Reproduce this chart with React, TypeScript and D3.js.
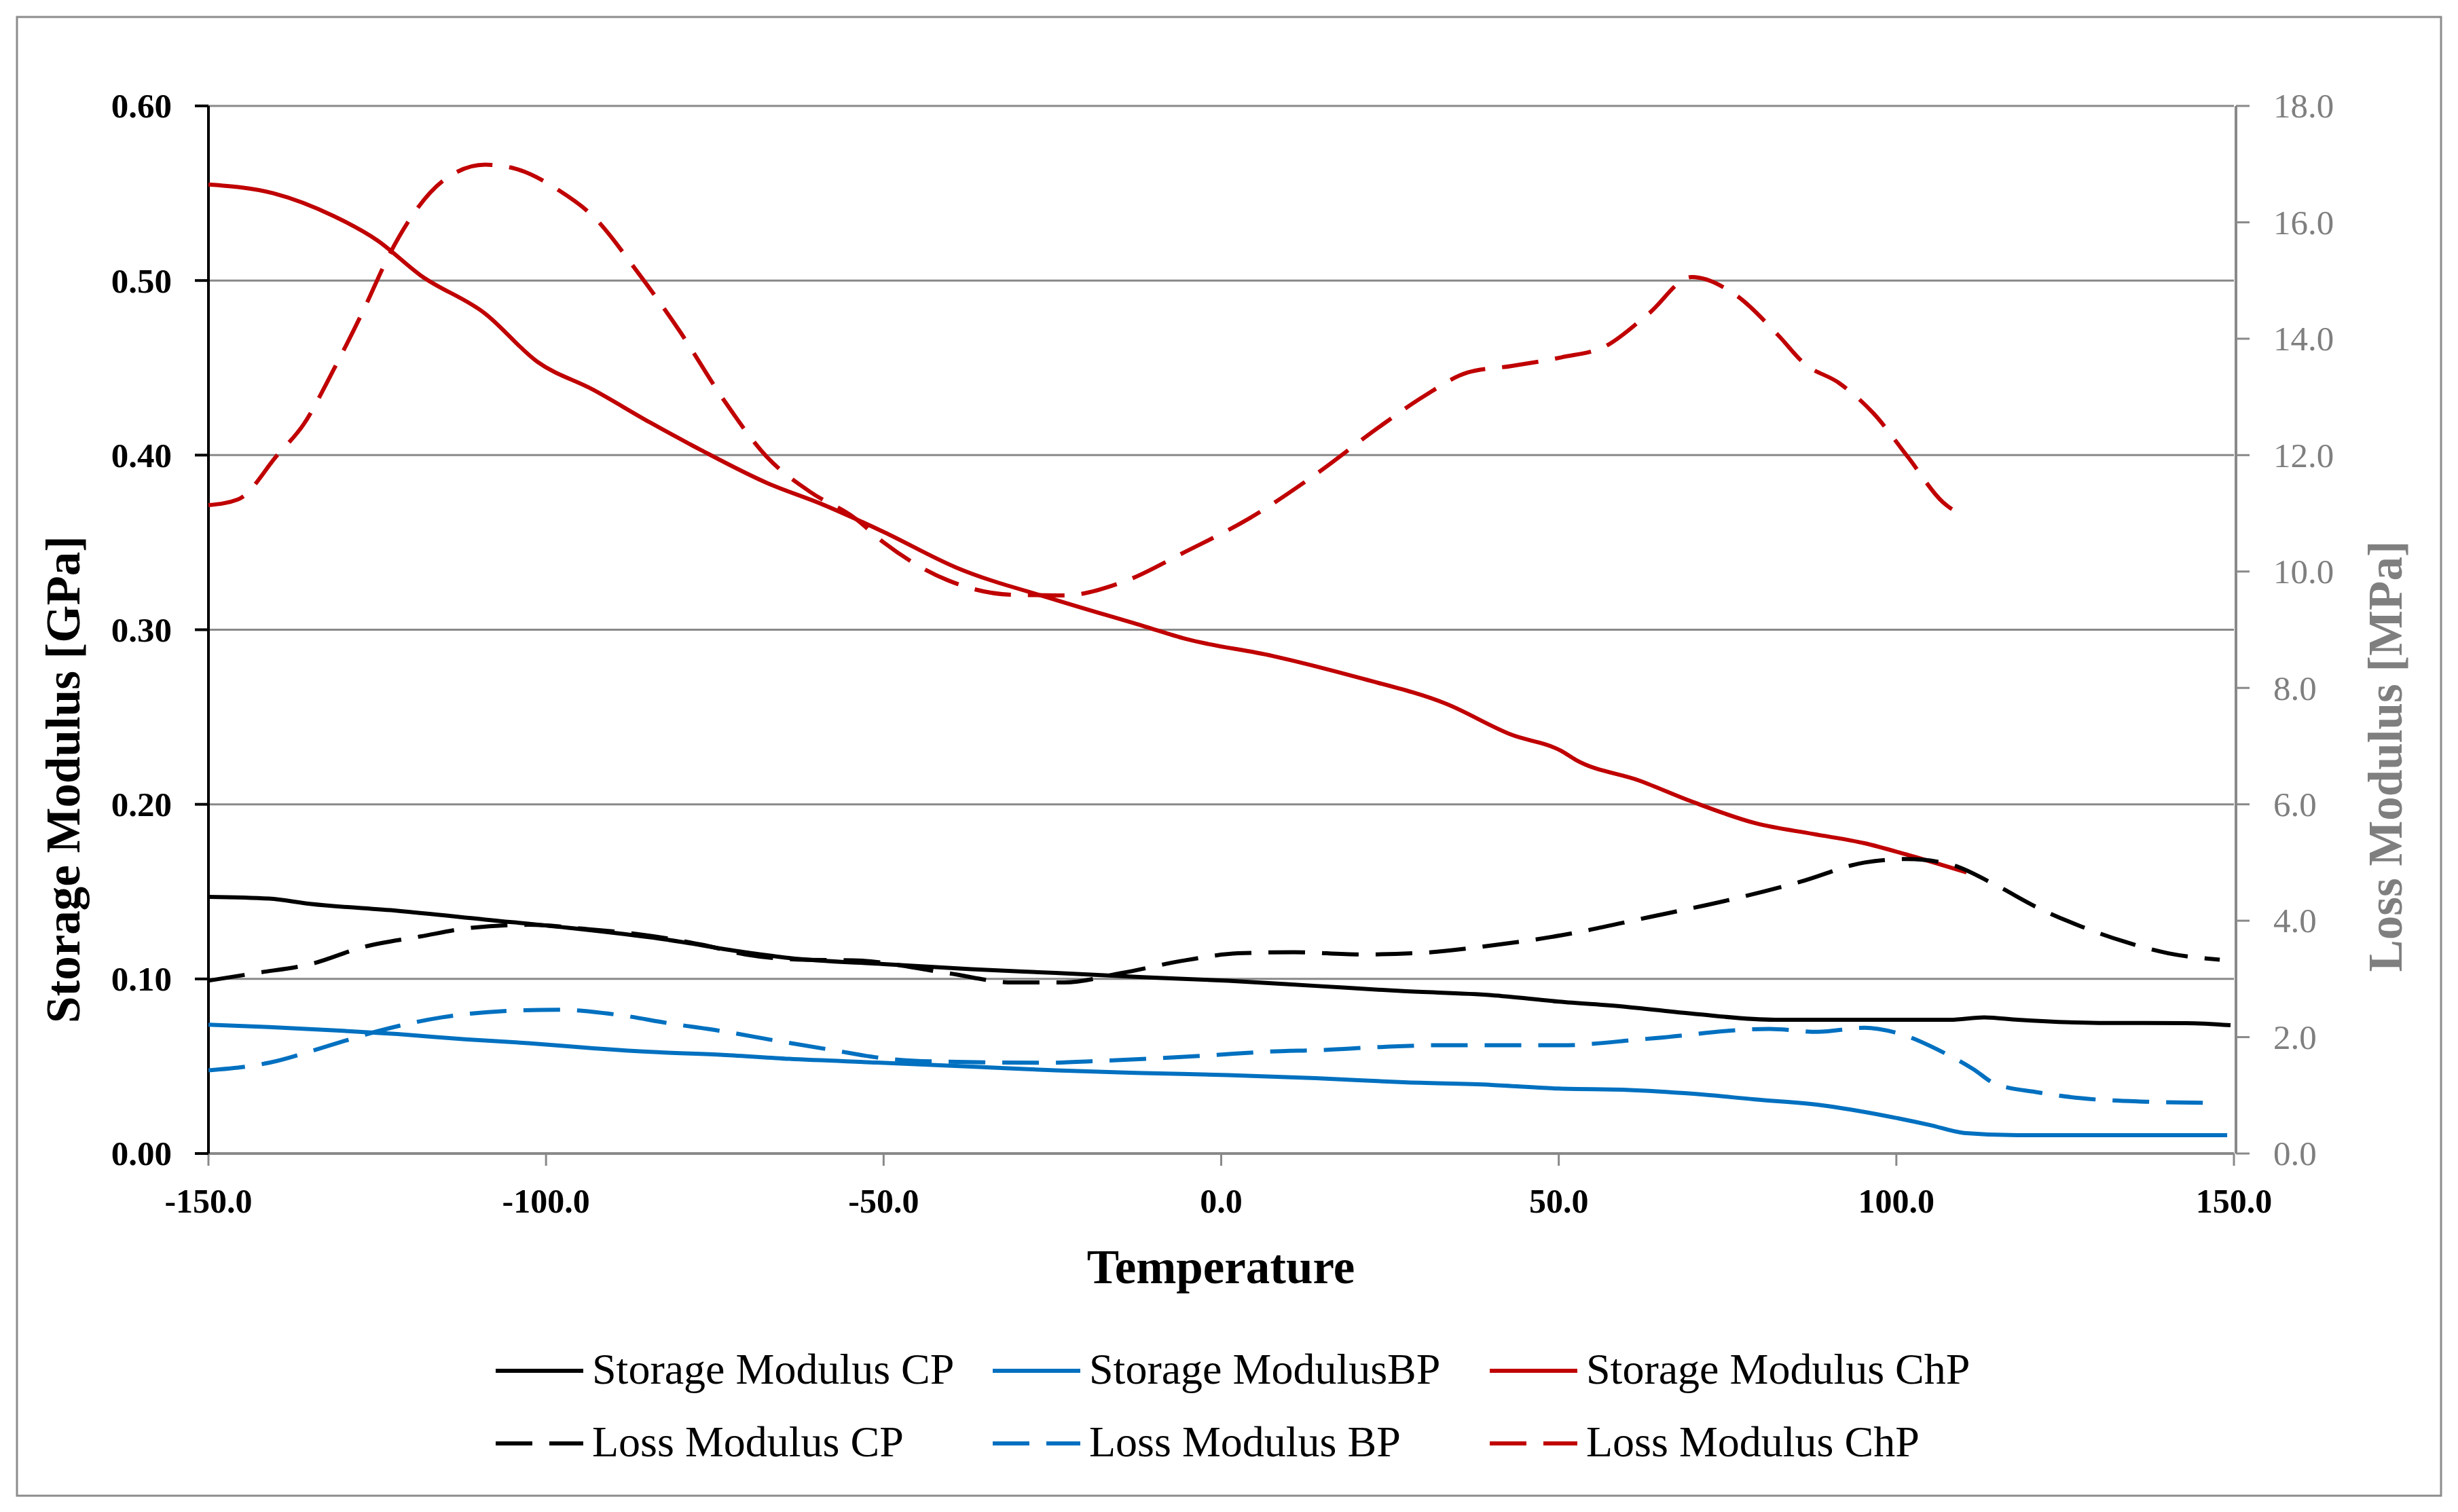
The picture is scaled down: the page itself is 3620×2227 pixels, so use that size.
import React from "react";
import * as d3 from "d3";

// temperature [°C], value — storage in GPa (left axis), loss in MPa (right axis)
const storageCP: [number, number][] = [
  [-150, 0.147], [-141, 0.146], [-135, 0.143], [-122, 0.139], [-109, 0.134],
  [-96, 0.129], [-83, 0.123], [-70, 0.115], [-64, 0.112], [-50, 0.1085],
  [-37, 0.1056], [-24.5, 0.1034], [-11.6, 0.101], [1, 0.099], [14, 0.096],
  [27, 0.093], [40, 0.0907], [50, 0.087], [60, 0.084], [70, 0.08],
  [82, 0.0766], [95, 0.0766], [108, 0.0766], [113, 0.078], [118, 0.0766],
  [130, 0.0748], [143, 0.0747], [149.5, 0.0735],
];

const storageBP: [number, number][] = [
  [-150, 0.0738], [-141, 0.0724], [-131.5, 0.0706], [-122, 0.0684], [-112, 0.0654],
  [-102.6, 0.0632], [-93, 0.0603], [-83.4, 0.058], [-73.8, 0.0565], [-64, 0.0542],
  [-51, 0.0521], [-37, 0.0498], [-24.5, 0.0476], [-11.6, 0.0461], [1, 0.0449],
  [14, 0.0432], [27, 0.0408], [40, 0.0393], [50, 0.0372], [60, 0.0365],
  [70, 0.0342], [79, 0.031], [89, 0.0276], [98.5, 0.0215], [105, 0.0163],
  [110, 0.0118], [118, 0.0105], [149, 0.0105],
];

const storageChP: [number, number][] = [
  [-150, 0.555], [-140.4, 0.55], [-131.5, 0.537], [-125, 0.523], [-118.6, 0.503],
  [-109, 0.481], [-101.3, 0.4535], [-93, 0.4374], [-84.6, 0.4187], [-77, 0.4028],
  [-67.3, 0.3841], [-59, 0.3717], [-50, 0.356], [-39.3, 0.3357], [-24.5, 0.3171],
  [-11.6, 0.3022], [-5.3, 0.2948], [7.6, 0.285], [20.4, 0.2725], [33.3, 0.2576],
  [42.9, 0.24], [50.4, 0.2305], [52.5, 0.2255], [62, 0.2135], [69.7, 0.2016],
  [79.3, 0.189], [87.7, 0.183], [95.3, 0.1777], [101.7, 0.171], [110.4, 0.161],
];

const lossCP: [number, number][] = [
  [-150, 2.97], [-143, 3.1], [-134.7, 3.26], [-127, 3.55], [-118.6, 3.73],
  [-111, 3.88], [-102.6, 3.93], [-94.3, 3.86], [-86.5, 3.77], [-77, 3.59],
  [-70.5, 3.42], [-62, 3.33], [-54.5, 3.32], [-40.5, 3.1], [-30.9, 2.94],
  [-23.2, 2.94], [-14.8, 3.1], [-5.3, 3.32], [2.5, 3.44], [10.8, 3.46],
  [20.4, 3.42], [30, 3.45], [39.7, 3.57], [50.4, 3.75], [63.3, 4.06],
  [76.1, 4.38], [85.8, 4.67], [95.3, 5.0], [101.7, 5.06], [108.2, 4.96],
  [114.6, 4.62], [121, 4.22], [127.4, 3.9], [133.8, 3.64], [140.3, 3.44],
  [147.9, 3.33],
];

const lossBP: [number, number][] = [
  [-150, 1.43], [-141, 1.56], [-132.8, 1.83], [-125, 2.1], [-115.4, 2.34],
  [-105.8, 2.45], [-98.1, 2.47], [-89.8, 2.39], [-81.4, 2.23], [-73.8, 2.1],
  [-66, 1.94], [-57.7, 1.78], [-50.3, 1.64], [-41.8, 1.58], [-25.8, 1.56],
  [-18.1, 1.59], [-9.1, 1.64], [-1.4, 1.69], [7, 1.75], [15.3, 1.78],
  [23.6, 1.83], [31.9, 1.86], [39.7, 1.86], [50.4, 1.86], [63, 1.97],
  [81.2, 2.14], [88.3, 2.09], [95.3, 2.16], [99.8, 2.08], [106.9, 1.74],
  [111.4, 1.45], [114.6, 1.2], [121, 1.05], [127.4, 0.95], [137, 0.89],
  [146.7, 0.87],
];

const lossChP: [number, number][] = [
  [-150, 11.14], [-145.6, 11.24], [-139.8, 12.0], [-135.9, 12.53], [-131.5, 13.46],
  [-127, 14.5], [-123.1, 15.47], [-119.9, 16.1], [-115.4, 16.7], [-109, 16.99],
  [-104.5, 16.92], [-98.1, 16.55], [-93, 16.1], [-86.6, 15.17], [-80.2, 14.13],
  [-73.8, 12.97], [-67.3, 11.97], [-60.9, 11.37], [-54.4, 10.93], [-50, 10.5],
  [-40.5, 9.85], [-30.9, 9.6], [-23.2, 9.59], [-14.8, 9.81], [-5.3, 10.34],
  [4.4, 10.93], [14, 11.67], [23.6, 12.5], [30, 13.01], [36.5, 13.42],
  [42.9, 13.53], [50.4, 13.68], [56.9, 13.87], [63.3, 14.43], [69.7, 15.06],
  [76.1, 14.76], [82.5, 14.06], [86.4, 13.57], [91.5, 13.24], [96.6, 12.72],
  [101.7, 11.97], [106.9, 11.19], [110.4, 10.93],
];

const legendRows = [
  ["Storage Modulus CP", "Storage ModulusBP", "Storage Modulus ChP"],
  ["Loss Modulus CP", "Loss Modulus BP", "Loss Modulus ChP"],
];
const seriesColors = ["#000000", "#0070c0", "#c00000"];

const W = 3620;
const H = 2227;
const FONT = "'Liberation Serif', 'Times New Roman', serif";
const DASH = "54,25";

// excel-style labels use a plain hyphen for negatives
const hyphen = (s: string) => s.replace("\u2212", "-");

export default function App() {
  const x = d3.scaleLinear().domain([-150, 150]).range([307, 3290]);
  const yL = d3.scaleLinear().domain([0, 0.6]).range([1699, 156]);
  const yR = d3.scaleLinear().domain([0, 18]).range([1699, 156]);

  const lineL = d3
    .line<[number, number]>()
    .x((d) => x(d[0]))
    .y((d) => yL(d[1]))
    .curve(d3.curveMonotoneX);
  const lineR = d3
    .line<[number, number]>()
    .x((d) => x(d[0]))
    .y((d) => yR(d[1]))
    .curve(d3.curveMonotoneX);

  const leftTicks = yL.ticks(6);
  const rightTicks = yR.ticks(9);
  const xTicks = x.ticks(6);
  const fmtL = d3.format(".2f");
  const fmt1 = d3.format(".1f");

  const [x0, x1] = x.range();
  const [yBottom, yTop] = yL.range();

  const storage = [storageCP, storageBP, storageChP];
  const loss = [lossCP, lossBP, lossChP];

  const legendSampleX = [730, 1462, 2194];
  const legendRowY = [2019, 2126];

  return (
    <svg
      width={W}
      height={H}
      style={{ position: "absolute", left: 0, top: 0, background: "#fff" }}
      fontFamily={FONT}
    >
      <rect x={0} y={0} width={W} height={H} fill="#fff" />
      <rect x={25} y={25} width={3570} height={2178} fill="none" stroke="#8c8c8c" strokeWidth={3} />

      {/* gridlines */}
      {leftTicks
        .filter((t) => t > 0)
        .map((t) => (
          <line key={"g" + t} x1={x0} x2={x1} y1={yL(t)} y2={yL(t)} stroke="#898989" strokeWidth={3} />
        ))}

      {/* bottom axis */}
      <line x1={x0} x2={x1} y1={yBottom} y2={yBottom} stroke="#898989" strokeWidth={4} />
      {xTicks.map((t) => (
        <g key={"x" + t}>
          <line x1={x(t)} x2={x(t)} y1={yBottom} y2={yBottom + 18} stroke="#898989" strokeWidth={3} />
          <text x={x(t)} y={1786} textAnchor="middle" fontSize={50} fontWeight="bold" fill="#000">
            {hyphen(fmt1(t))}
          </text>
        </g>
      ))}

      {/* left axis */}
      <line x1={x0} x2={x0} y1={yTop} y2={yBottom} stroke="#000" strokeWidth={4} />
      {leftTicks.map((t) => (
        <g key={"l" + t}>
          <line x1={x0 - 20} x2={x0} y1={yL(t)} y2={yL(t)} stroke="#000" strokeWidth={4} />
          <text x={253} y={yL(t)} dy="0.34em" textAnchor="end" fontSize={51} fontWeight="bold" fill="#000">
            {fmtL(t)}
          </text>
        </g>
      ))}

      {/* right axis */}
      <line x1={x1 + 3} x2={x1 + 3} y1={yTop} y2={yBottom} stroke="#898989" strokeWidth={4} />
      {rightTicks.map((t) => (
        <g key={"r" + t}>
          <line x1={x1 + 3} x2={x1 + 23} y1={yR(t)} y2={yR(t)} stroke="#898989" strokeWidth={3} />
          <text x={3348} y={yR(t)} dy="0.34em" textAnchor="start" fontSize={51} fill="#7f7f7f">
            {fmt1(t)}
          </text>
        </g>
      ))}

      {/* series */}
      {storage.map((s, i) => (
        <path key={"s" + i} d={lineL(s) || ""} fill="none" stroke={seriesColors[i]} strokeWidth={6} />
      ))}
      {loss.map((s, i) => (
        <path
          key={"d" + i}
          d={lineR(s) || ""}
          fill="none"
          stroke={seriesColors[i]}
          strokeWidth={6}
          strokeDasharray={DASH}
        />
      ))}

      {/* axis titles */}
      <text x={1798} y={1890} textAnchor="middle" fontSize={71} fontWeight="bold" fill="#000">
        Temperature
      </text>
      <text
        transform="translate(117,1148) rotate(-90)"
        textAnchor="middle"
        fontSize={71}
        fontWeight="bold"
        fill="#000"
      >
        Storage Modulus [GPa]
      </text>
      <text
        transform="translate(3537,1114) rotate(-90)"
        textAnchor="middle"
        fontSize={71}
        fontWeight="bold"
        fill="#7f7f7f"
      >
        Loss Modulus [MPa]
      </text>

      {/* legend */}
      {legendRows.map((row, r) =>
        row.map((label, c) => (
          <g key={"lg" + r + c}>
            <line
              x1={legendSampleX[c]}
              x2={legendSampleX[c] + 129}
              y1={legendRowY[r]}
              y2={legendRowY[r]}
              stroke={seriesColors[c]}
              strokeWidth={6}
              strokeDasharray={r === 1 ? DASH : undefined}
            />
            <text x={legendSampleX[c] + 142} y={legendRowY[r] + 19} fontSize={64} fill="#000">
              {label}
            </text>
          </g>
        ))
      )}
    </svg>
  );
}
